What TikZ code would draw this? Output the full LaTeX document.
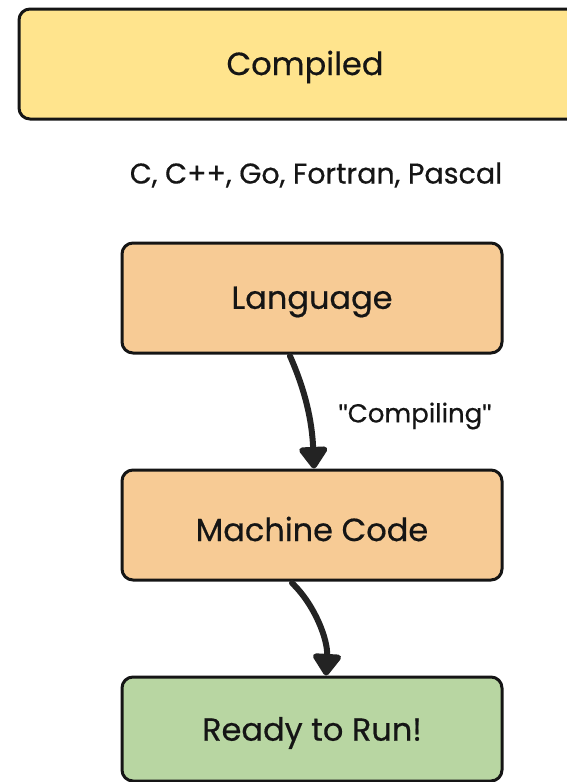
\documentclass[tikz,border=0pt]{standalone}
\usepackage{fontspec}
\setmainfont{Poppins}[FakeBold=0.5]
\newfontfamily\quotefont{Liberation Sans}[FakeBold=0.5]
\usetikzlibrary{arrows.meta}
\definecolor{strokec}{HTML}{151515}
\definecolor{yellowfill}{HTML}{FFE48D}
\definecolor{orangefill}{HTML}{F7CB95}
\definecolor{greenfill}{HTML}{B8D6A2}
\definecolor{arrowc}{HTML}{232323}
\newcommand{\sq}{{\quotefont\symbol{34}}}
\tikzset{
  box/.style={draw=strokec, line width=3pt, rounded corners=11pt, inner sep=0pt},
  boxtext/.style={font=\fontsize{32}{36}\selectfont, text=strokec, yshift=-4pt},
  flow/.style={draw=arrowc, line width=6pt, line cap=round,
    -{Triangle[length=24pt,width=32pt,round]}},
}
\begin{document}
\begin{tikzpicture}[x=1pt,y=-1pt]
  \useasboundingbox (0,0) rectangle (566,782);
  % boxes
  \draw[box, fill=yellowfill] (19,9) rectangle (600,119);
  \node[boxtext] (compiled) at (305,63) {Compiled};
  \node[font=\fontsize{28.5}{32}\selectfont, text=strokec, yshift=-3pt] (langs) at (316,172) {C, C++, Go, Fortran, Pascal};

  \node[box, fill=orangefill, minimum width=380pt, minimum height=110pt] (lang) at (312,298) {};
  \node[boxtext] at (lang.center) {Language};

  \node[box, fill=orangefill, minimum width=380pt, minimum height=110pt] (mc) at (312,525) {};
  \node[boxtext] at (mc.center) {Machine Code};

  \node[box, fill=greenfill, minimum width=380pt, minimum height=104pt] (run) at (312,729) {};
  \node[boxtext] at (run.center) {Ready to Run!};

  % connectors
  \draw[flow] (290,356) .. controls (305,390) and (312,420) .. (mc.north -| 314,0);
  \draw[flow] (292,583) .. controls (315,605) and (328,640) .. (run.north -| 326,0);
  \node[font=\fontsize{26}{30}\selectfont, text=strokec, yshift=-3pt] (lbl) at (415,413) {\sq Compiling\sq};
\end{tikzpicture}
\end{document}
